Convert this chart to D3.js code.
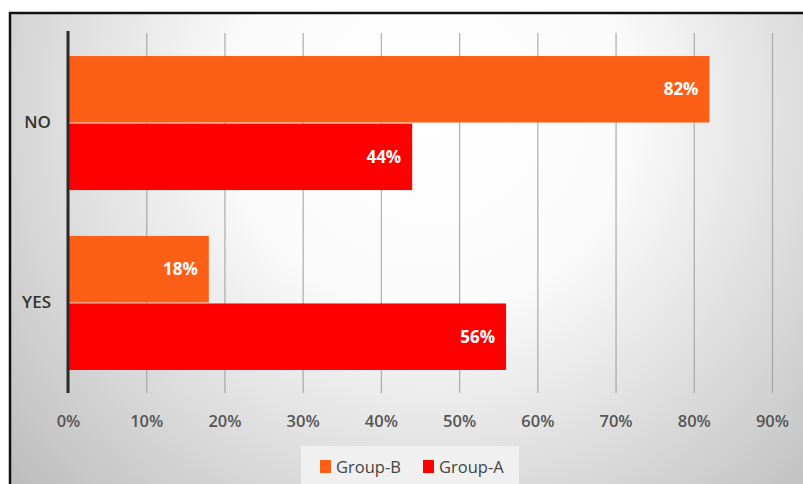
<!DOCTYPE html>
<html>
<head>
<meta charset="utf-8">
<script src="https://cdn.jsdelivr.net/npm/d3@7/dist/d3.min.js"></script>
<style>
  html, body { margin: 0; padding: 0; background: #fff; }
  svg { display: block; }
  text { font-family: "Open Sans", "Liberation Sans", sans-serif; }
</style>
</head>
<body>
<svg id="chart" width="803" height="484"></svg>
<script>
// Survey answers, share of respondents per group
const categories = ["NO", "YES"];
const seriesNames = ["Group-B", "Group-A"];
const groupB = [0.82, 0.18];
const groupA = [0.44, 0.56];
const tickValues = [0, 0.1, 0.2, 0.3, 0.4, 0.5, 0.6, 0.7, 0.8, 0.9];
const seriesColors = ["#fd5f17", "#ff0000"];

const rows = categories.map((c, i) => ({ category: c, values: [groupB[i], groupA[i]] }));

const svg = d3.select("#chart");
const W = 803, H = 484;

// Frame background: soft radial glow
const defs = svg.append("defs");
const grad = defs.append("radialGradient")
  .attr("id", "bg").attr("gradientUnits", "userSpaceOnUse")
  .attr("cx", 430).attr("cy", 110).attr("r", 560);
grad.append("stop").attr("offset", 0).attr("stop-color", "#ffffff");
grad.append("stop").attr("offset", 0.35).attr("stop-color", "#fbfbfb");
grad.append("stop").attr("offset", 1).attr("stop-color", "#bdbdbd");

svg.append("rect").attr("x", 10).attr("y", 13).attr("width", W + 10).attr("height", H)
  .attr("fill", "url(#bg)").attr("stroke", "#111").attr("stroke-width", 2.5);

const margin = { left: 68, right: 31, top: 33, bottom: 91 };
const x = d3.scaleLinear().domain([0, 0.9]).range([margin.left, W - margin.right]);
const y0 = d3.scaleBand().domain(categories).range([margin.top, H - margin.bottom]).paddingInner(0.255).paddingOuter(0.128);
const y1 = d3.scaleBand().domain(seriesNames).range([0, y0.bandwidth()]).paddingInner(0.015);

// Vertical gridlines
const grid = svg.append("g").attr("transform", `translate(0,${H - margin.bottom})`)
  .call(d3.axisBottom(x).tickValues(tickValues).tickSize(-(H - margin.bottom - margin.top)).tickFormat(""));
grid.select(".domain").remove();
grid.selectAll("line").attr("stroke", "#9a9a9a").attr("stroke-width", 1.3).attr("opacity", 0.75);

// Bars
const groups = svg.append("g").selectAll("g").data(rows).join("g")
  .attr("transform", d => `translate(0,${y0(d.category)})`);
groups.selectAll("rect")
  .data(d => d.values.map((v, k) => ({ key: seriesNames[k], value: v, color: seriesColors[k] })))
  .join("rect")
  .attr("x", x(0))
  .attr("y", d => y1(d.key))
  .attr("width", d => x(d.value) - x(0))
  .attr("height", y1.bandwidth())
  .attr("fill", d => d.color);

// Value labels inside the bar ends
groups.selectAll("text.val")
  .data(d => d.values.map((v, k) => ({ key: seriesNames[k], value: v })))
  .join("text").attr("class", "val")
  .attr("x", d => x(d.value) - 11)
  .attr("y", d => y1(d.key) + y1.bandwidth() / 2)
  .attr("dy", "0.35em")
  .attr("text-anchor", "end")
  .attr("fill", "#fff")
  .attr("font-size", 17)
  .attr("font-weight", "bold")
  .text(d => d3.format(".0%")(d.value));

// Bottom tick labels
const xAxis = svg.append("g").attr("transform", `translate(0,${H - margin.bottom})`)
  .call(d3.axisBottom(x).tickValues(tickValues).tickSize(0).tickPadding(22).tickFormat(d3.format(".0%")));
xAxis.select(".domain").remove();
xAxis.selectAll("text").attr("font-size", 16.5).attr("fill", "#555").attr("font-weight", 600)
  .style("font-family", "'Open Sans', sans-serif");

// Category axis
const yAxis = svg.append("g").attr("transform", `translate(${margin.left},0)`)
  .call(d3.axisLeft(y0).tickSize(0).tickPadding(17));
yAxis.select(".domain").attr("stroke", "#2a2a2a").attr("stroke-width", 3)
  .attr("d", `M0,${margin.top - 2}V${H - margin.bottom}`);
yAxis.selectAll("text").attr("font-size", 17).attr("fill", "#333").attr("font-weight", 600)
  .style("font-family", "'Open Sans', sans-serif");

// Legend
const legend = svg.append("g").attr("transform", "translate(301,446)");
legend.append("rect").attr("width", 218).attr("height", 40).attr("fill", "#f2f2f2").attr("opacity", 0.9);
const items = legend.selectAll("g").data(seriesNames).join("g")
  .attr("transform", (d, i) => `translate(${19 + i * 103},21)`);
items.append("rect").attr("x", 0).attr("y", -7).attr("width", 11).attr("height", 13)
  .attr("fill", (d, i) => seriesColors[i]);
items.append("text").attr("x", 16).attr("dy", "0.35em").attr("font-size", 16.5).attr("fill", "#444")
  .text(d => d);
</script>
</body>
</html>
